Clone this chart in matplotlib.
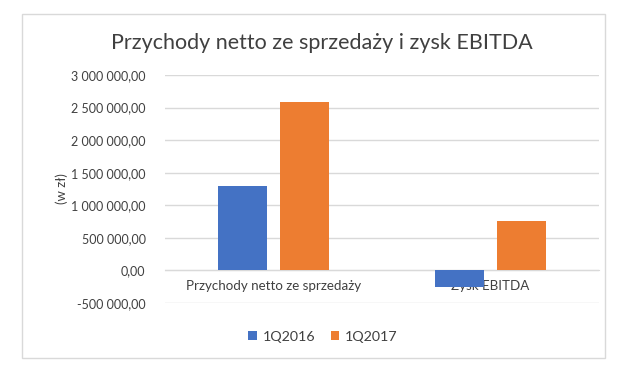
import matplotlib
matplotlib.use("Agg")
import matplotlib.pyplot as plt
from matplotlib.ticker import FuncFormatter, MultipleLocator
from matplotlib.patches import Rectangle
import numpy as np

categories = ["Przychody netto ze sprzedaży", "Zysk EBITDA"]
series_names = ["1Q2016", "1Q2017"]
values_2016 = [1300000, -255000]
values_2017 = [2590000, 755000]
colors = ["#4472C4", "#ED7D31"]

plt.rcParams['font.family'] = ['Lato', 'DejaVu Sans']

fig = plt.figure(figsize=(6.25, 3.67), dpi=100)
W, H = 625, 367
# outer chart border
fig.patches.append(Rectangle((22 / W, 1 - 358 / H), (605 - 22) / W, (358 - 14) / H,
                             transform=fig.transFigure, fill=False,
                             edgecolor="#D9D9D9", linewidth=1.0))

ax = fig.add_axes([165 / W, 1 - 303 / H, (599 - 165) / W, (303 - 75) / H])
x = np.arange(len(categories))
bw = 0.225
off = 0.1415
ax.bar(x - off, values_2016, bw, color=colors[0], label=series_names[0], zorder=3)
ax.bar(x + off, values_2017, bw, color=colors[1], label=series_names[1], zorder=3)

ax.set_xlim(-0.5, 1.5)
ax.set_ylim(-500000, 3000000)
ax.yaxis.set_major_locator(MultipleLocator(500000))

def fmt(v, pos):
    s = f"{abs(v):,.2f}".replace(",", " ").replace(".", ",")
    return ("-" if v < 0 else "") + s

ax.yaxis.set_major_formatter(FuncFormatter(fmt))
ax.grid(axis="y", color="#D9D9D9", linewidth=1.0, zorder=0)
for s in ["top", "right", "left"]:
    ax.spines[s].set_visible(False)
ax.spines["bottom"].set_position(("data", 0))
ax.spines["bottom"].set_color("#D9D9D9")
ax.set_xticks(x)
ax.set_xticklabels(categories, fontsize=9.6, color="#404040")
ax.tick_params(axis="x", length=0, pad=7)
ax.tick_params(axis="y", length=0, labelsize=9, labelcolor="#404040", pad=14)
ax.set_ylabel("(w zł)", fontsize=9.5, color="#404040", labelpad=2)

fig.text(322 / W, 1 - 43 / H, "Przychody netto ze sprzedaży i zysk EBITDA",
         ha="center", va="center", fontsize=15.5, color="#404040")

fig.legend(loc="center", bbox_to_anchor=(323 / W, 1 - 337 / H), ncol=2, frameon=False,
           fontsize=10.3, handlelength=0.6, handleheight=0.6, handletextpad=0.4,
           columnspacing=1.1, labelcolor="#404040")

fig.savefig("out.png", dpi=100)
